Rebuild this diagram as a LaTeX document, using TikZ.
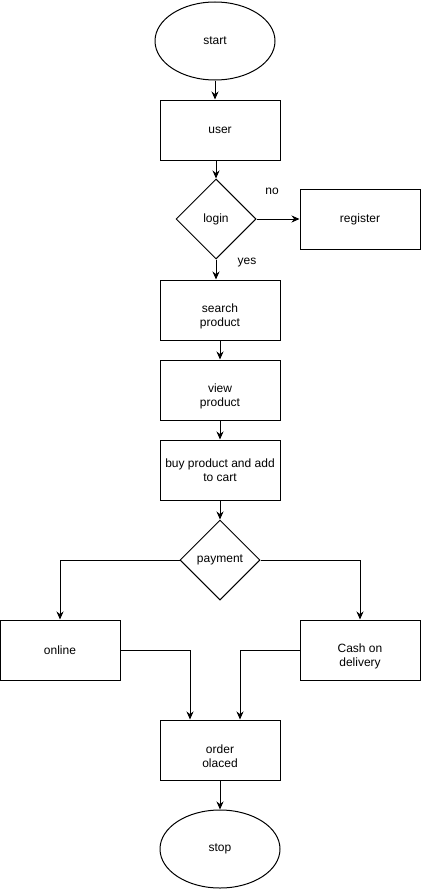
\documentclass[tikz,border=0pt]{standalone}
\usepackage{fontspec}
\setmainfont{Liberation Sans}
\usetikzlibrary{shapes.geometric,arrows.meta}
\newcommand\lowln{\rule{0pt}{22pt}}
\begin{document}
\begin{tikzpicture}[x=1pt,y=-1pt,line width=1pt,
  every node/.style={font=\fontsize{12}{14}\selectfont,align=center},
  box/.style={draw,minimum width=120pt,minimum height=60pt,inner sep=0pt},
  term/.style={draw,ellipse,minimum width=120pt,minimum height=78pt,inner sep=0pt},
  dec/.style={draw,diamond,minimum width=80pt,minimum height=80pt,inner sep=0pt},
  >={Stealth[length=8pt,width=7pt]}]
\useasboundingbox (0,0) rectangle (421,891);
\node[term] (start) at (215,41) {start};
\node[box] (user) at (220,130) {user};
\node[dec] (login) at (216,219) {login};
\node[box] (register) at (360,219) {register};
\node (no) at (272,191) {no};
\node (yes) at (247,263) {yes};
\node[box] (search) at (220,310) {\lowln search\\product};
\node[box] (view) at (220,390) {\lowln view\\product};
\node[box] (buy) at (220,470) {buy product and add\\to cart};
\node[dec] (payment) at (220,560) {payment};
\node[box] (online) at (60,650) {online};
\node[box] (cash) at (360,650) {\lowln Cash on\\delivery};
\node[box] (order) at (220,750) {\lowln order\\olaced};
\node[term] (stop) at (220,849) {stop};
\draw[->] (start.south) -- (start.south |- user.north);
\draw[->] (login.north |- user.south) -- (login.north);
\draw[->] (login.east) -- (register.west);
\draw[->] (login.south) -- (login.south |- search.north);
\draw[->] (search) -- (view);
\draw[->] (view) -- (buy);
\draw[->] (buy) -- (payment);
\draw[->] (payment.west) -| (online.north);
\draw[->] (payment.east) -| (cash.north);
\draw[->] (online.east) -| ([xshift=-30pt]order.north);
\draw[->] (cash.west) -| ([xshift=20pt]order.north);
\draw[->] (order) -- (stop);
\end{tikzpicture}
\end{document}
